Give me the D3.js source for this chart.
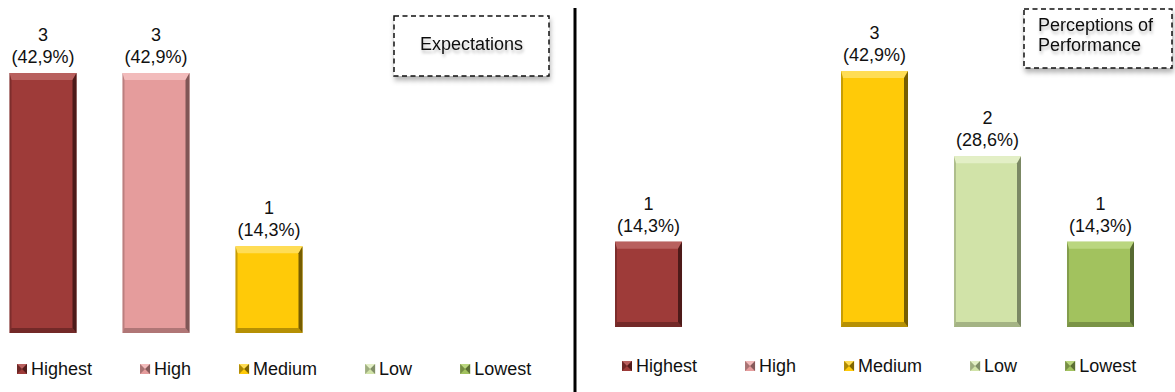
<!DOCTYPE html>
<html>
<head>
<meta charset="utf-8">
<script src="https://cdn.jsdelivr.net/npm/d3@7"></script>
<style>
  html, body { margin: 0; padding: 0; background: #fff; }
  svg { display: block; font-family: "Liberation Sans", Arial, sans-serif; }
</style>
</head>
<body>
<svg id="chart" width="1175" height="392"></svg>
<script>
const categories = ["Highest", "High", "Medium", "Low", "Lowest"];
const expectationsValues = [3, 3, 1, 0, 0];
const performanceValues = [1, 0, 3, 2, 1];
const panelTitles = [["Expectations"], ["Perceptions of", "Performance"]];
const colors = ["#9E3B39", "#E59C9C", "#FFCA08", "#D1E3A8", "#A2C25E"];
const lightColors = ["#B8605E", "#F2BBBB", "#FFDD55", "#E3EFC6", "#BAD67F"];
const darkColors = ["#3E1514", "#6E4A4A", "#5E4A00", "#6C7858", "#4A5A2A"];

const svg = d3.select("#chart");
const defs = svg.append("defs");
const sh = defs.append("filter").attr("id", "boxshadow").attr("x", "-10%").attr("y", "-10%").attr("width", "130%").attr("height", "140%");
sh.append("feDropShadow").attr("dx", 1).attr("dy", 4).attr("stdDeviation", 2.5).attr("flood-color", "#000").attr("flood-opacity", 0.3);
const tsh = defs.append("filter").attr("id", "textshadow").attr("x", "-10%").attr("y", "-30%").attr("width", "130%").attr("height", "180%");
tsh.append("feDropShadow").attr("dx", 1).attr("dy", 3).attr("stdDeviation", 1.5).attr("flood-color", "#000").attr("flood-opacity", 0.25);

const pctFmt = d3.format(".1f");

function panel(cfg) {
  const g = svg.append("g");
  const total = d3.sum(cfg.values);
  const x = d3.scaleBand().domain(categories).range(cfg.xRange).paddingInner(0.407).paddingOuter(0);
  const y = d3.scaleLinear().domain([0, 3]).range(cfg.yRange);
  const color = d3.scaleOrdinal().domain(categories).range(colors);
  const light = d3.scaleOrdinal().domain(categories).range(lightColors);
  const dark = d3.scaleOrdinal().domain(categories).range(darkColors);
  const data = categories.map((c, i) => ({ c, v: cfg.values[i] })).filter(d => d.v > 0);

  const bars = g.selectAll("g.bar").data(data).enter().append("g").attr("class", "bar");
  bars.each(function (d) {
    const b = d3.select(this);
    const x0 = x(d.c), w = x.bandwidth(), y0 = y(d.v), y1 = y(0);
    const bt = 7, br = 4, bb = 5, bl = 2;
    b.append("rect").attr("x", x0).attr("y", y0).attr("width", w).attr("height", y1 - y0).attr("fill", color(d.c));
    // top bevel
    b.append("polygon").attr("points", [[x0, y0], [x0 + w, y0], [x0 + w - br, y0 + bt], [x0 + bl, y0 + bt]].join(" "))
      .attr("fill", light(d.c));
    // right bevel
    b.append("polygon").attr("points", [[x0 + w, y0], [x0 + w, y1], [x0 + w - br, y1 - bb], [x0 + w - br, y0 + bt]].join(" "))
      .attr("fill", dark(d.c)).attr("opacity", 0.85);
    // bottom bevel
    b.append("polygon").attr("points", [[x0, y1], [x0 + w, y1], [x0 + w - br, y1 - bb], [x0 + bl, y1 - bb]].join(" "))
      .attr("fill", dark(d.c)).attr("opacity", 0.45);
    // left bevel
    b.append("polygon").attr("points", [[x0, y0], [x0 + bl, y0 + bt], [x0 + bl, y1 - bb], [x0, y1]].join(" "))
      .attr("fill", dark(d.c)).attr("opacity", 0.35);
    const cx = x0 + w / 2;
    b.append("text").attr("x", cx).attr("y", y0 - 32).attr("text-anchor", "middle")
      .attr("font-size", 18).attr("fill", "#111").text(d.v);
    b.append("text").attr("x", cx).attr("y", y0 - 10).attr("text-anchor", "middle")
      .attr("font-size", 18).attr("fill", "#111")
      .text("(" + pctFmt(d.v / total * 100).replace(".", ",") + "%)");
  });

  // legend (flow layout)
  const lg = g.append("g");
  let lx = cfg.legendX;
  categories.forEach(c => {
    const item = lg.append("g");
    const s = 10, my = cfg.legendY - 11;
    const mx = lx;
    item.append("rect").attr("x", mx).attr("y", my).attr("width", s).attr("height", s).attr("fill", color(c));
    item.append("polygon").attr("points", [[mx, my], [mx + s, my], [mx + s / 2, my + s / 2]].join(" ")).attr("fill", light(c));
    item.append("polygon").attr("points", [[mx + s, my], [mx + s, my + s], [mx + s / 2, my + s / 2]].join(" ")).attr("fill", dark(c)).attr("opacity", 0.8);
    item.append("polygon").attr("points", [[mx, my], [mx, my + s], [mx + s / 2, my + s / 2]].join(" ")).attr("fill", dark(c)).attr("opacity", 0.5);
    const t = item.append("text").attr("x", mx + 14).attr("y", cfg.legendY).attr("font-size", 18).attr("fill", "#111").text(c);
    const tw = t.node().getComputedTextLength();
    lx = mx + 14 + tw + 48;
  });

  // title box
  const tb = cfg.titleBox;
  g.append("rect").attr("x", tb.x).attr("y", tb.y).attr("width", tb.w).attr("height", tb.h)
    .attr("fill", "#fff").attr("stroke", "#111").attr("stroke-width", 1.5)
    .attr("stroke-dasharray", "5,3.5").attr("filter", "url(#boxshadow)");
  const tt = g.append("text").attr("font-size", 18).attr("fill", "#111").attr("filter", "url(#textshadow)")
    .attr("text-anchor", tb.anchor);
  cfg.title.forEach((line, i) => {
    tt.append("tspan").attr("x", tb.tx).attr("y", tb.ty + i * 20).text(line);
  });
}

panel({
  values: expectationsValues,
  xRange: [9.5, 528.5],
  yRange: [333, 73],
  legendX: 17,
  legendY: 375,
  title: panelTitles[0],
  titleBox: { x: 394, y: 16, w: 155, h: 60, tx: 471.5, ty: 50, anchor: "middle" }
});

panel({
  values: performanceValues,
  xRange: [615, 1134],
  yRange: [327, 71],
  legendX: 622,
  legendY: 372,
  title: panelTitles[1],
  titleBox: { x: 1024, y: 9, w: 148, h: 59, tx: 1038, ty: 31, anchor: "start" }
});

// divider
svg.append("line").attr("x1", 575).attr("x2", 575).attr("y1", 8).attr("y2", 392)
  .attr("stroke", "#000").attr("stroke-width", 3);
</script>
</body>
</html>
